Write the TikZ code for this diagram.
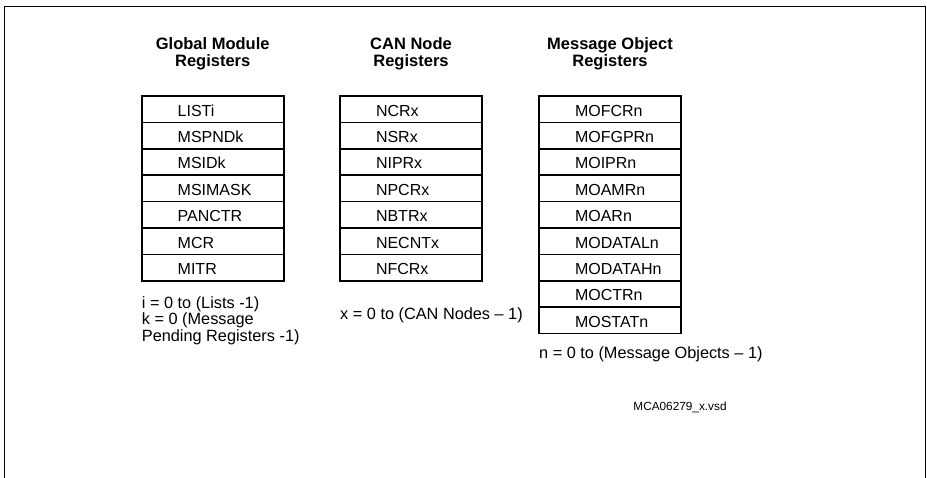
\documentclass[tikz,border=0pt]{standalone}
\usepackage{fontspec}
\setmainfont{Liberation Sans}
\usepackage{tikz}
\usetikzlibrary{positioning}
\tikzset{
  reg/.style={draw, line width=1.6pt, outer sep=0pt, minimum width=142pt, minimum height=26.4pt,
    inner xsep=0pt, inner ysep=0pt, text width=142pt, align=left, text height=14pt, text depth=0pt,
    font=\fontsize{16}{17}\selectfont, execute at begin node={\hspace*{36pt}}},
  head/.style={align=center, inner sep=0pt, font=\fontsize{16.5}{17}\selectfont\bfseries},
  note/.style={align=left, inner sep=0pt, font=\fontsize{16.3}{16.7}\selectfont},
  tag/.style={inner sep=0pt, font=\fontsize{11.8}{13}\selectfont},
  frame/.style={line width=0.9pt},
}
\begin{document}
\begin{tikzpicture}[x=1pt, y=-1pt]
\useasboundingbox (0,0) rectangle (927,478);
\draw[frame] (4,478) -- (4,6) -- (925.5,6) -- (925.5,478);
% global module registers
\node[reg, anchor=north west] (listi) at (141.7,96) {LISTi};
\node[reg, below=0pt of listi] (mspnd) {MSPNDk};
\node[reg, below=0pt of mspnd] (msid) {MSIDk};
\node[reg, below=0pt of msid] (msimask) {MSIMASK};
\node[reg, below=0pt of msimask] (panctr) {PANCTR};
\node[reg, below=0pt of panctr] (mcr) {MCR};
\node[reg, below=0pt of mcr] (mitr) {MITR};
\node[head, above=25.5pt of listi] (hglob) {Global Module\\Registers};
\node[note, anchor=base west] (nglob) at (141.7,341.7) {i = 0 to (Lists -1)\\k = 0 (Message\\Pending Registers -1)};
% CAN node registers
\node[reg, anchor=north west] (ncr) at (340,96) {NCRx};
\node[reg, below=0pt of ncr] (nsr) {NSRx};
\node[reg, below=0pt of nsr] (nipr) {NIPRx};
\node[reg, below=0pt of nipr] (npcr) {NPCRx};
\node[reg, below=0pt of npcr] (nbtr) {NBTRx};
\node[reg, below=0pt of nbtr] (necnt) {NECNTx};
\node[reg, below=0pt of necnt] (nfcr) {NFCRx};
\node[head, above=25.5pt of ncr] (hcan) {CAN Node\\Registers};
\node[note, anchor=base west] (ncan) at (340,320) {x = 0 to (CAN Nodes – 1)};
% message object registers
\node[reg, anchor=north west] (mofcr) at (539,96) {MOFCRn};
\node[reg, below=0pt of mofcr] (mofgpr) {MOFGPRn};
\node[reg, below=0pt of mofgpr] (moipr) {MOIPRn};
\node[reg, below=0pt of moipr] (moamr) {MOAMRn};
\node[reg, below=0pt of moamr] (moar) {MOARn};
\node[reg, below=0pt of moar] (modatal) {MODATALn};
\node[reg, below=0pt of modatal] (modatah) {MODATAHn};
\node[reg, below=0pt of modatah] (moctr) {MOCTRn};
\node[reg, below=0pt of moctr] (mostat) {MOSTATn};
\node[head, above=25.5pt of mofcr] (hmo) {Message Object\\Registers};
\node[note, anchor=base west] (nmo) at (539,358.3) {n = 0 to (Message Objects – 1)};
\node[tag, anchor=base] (file) at (680,410) {MCA06279\_x.vsd};
\end{tikzpicture}
\end{document}
